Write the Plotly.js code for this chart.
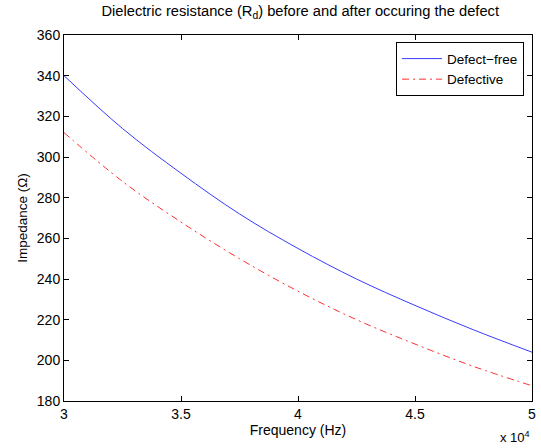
<!DOCTYPE html>
<html>
<head>
<meta charset="utf-8">
<script src="https://cdn.plot.ly/plotly-3.0.1.min.js"></script>
<style>html,body{margin:0;padding:0;background:#fff;}#chart{width:541px;height:448px;}</style>
</head>
<body>
<div id="chart"></div>
<script>
// Frequency (Hz)
const frequency = [30000, 32500, 35000, 37500, 40000, 42500, 45000, 47500, 50000];
// Impedance (Ohm)
const defectFree = [340, 314, 292, 272, 255, 240, 227, 215, 204];
const defective  = [312, 288, 268, 250, 234, 220, 208, 197, 187.5];
const xTickVals = [30000, 35000, 40000, 45000, 50000];
const xTickText = ['3', '3.5', '4', '4.5', '5'];
const yTickVals = [180, 200, 220, 240, 260, 280, 300, 320, 340, 360];

const fam = 'Liberation Sans, Arial, sans-serif';
const font = {family: fam, size: 13.5, color: '#000'};

const traces = [
  {x: frequency, y: defectFree, name: 'Defect\u2212free', type: 'scatter', mode: 'lines',
   line: {color: '#3a3aff', width: 1, shape: 'spline'}},
  {x: frequency, y: defective, name: 'Defective', type: 'scatter', mode: 'lines',
   line: {color: '#ff3030', width: 1, dash: '7px,4px,2px,4px', shape: 'spline'}}
];

const layout = {
  width: 541, height: 448,
  margin: {l: 64, r: 9, t: 35, b: 47},
  paper_bgcolor: '#fff', plot_bgcolor: '#fff',
  font: font,
  showlegend: true,
  title: {text: 'Dielectric resistance (R<sub>d</sub>) before and after occuring the defect',
          font: {family: fam, size: 14.7, color: '#000'}, x: 0.555, xanchor: 'center', y: 0.987, yanchor: 'top'},
  xaxis: {
    range: [30000, 50000], tickvals: xTickVals, ticktext: xTickText,
    ticks: 'inside', ticklen: 5, tickcolor: '#000', mirror: 'ticks',
    showline: true, linecolor: '#000', linewidth: 1, showgrid: false, zeroline: false,
    tickfont: {family: fam, size: 14, color: '#000'},
    title: {text: 'Frequency (Hz)', font: {family: fam, size: 14, color: '#000'}, standoff: 1}
  },
  yaxis: {
    range: [180, 360], tickvals: yTickVals,
    ticks: 'inside', ticklen: 5, tickcolor: '#000', mirror: 'ticks',
    showline: true, linecolor: '#000', linewidth: 1, showgrid: false, zeroline: false,
    tickfont: {family: fam, size: 14, color: '#000'},
    title: {text: 'Impedance (\u03A9)', font: {family: fam, size: 13.5, color: '#000'}, standoff: 6}
  },
  legend: {
    x: 0.983, xanchor: 'right', y: 0.98, yanchor: 'top',
    bgcolor: '#fff', bordercolor: '#000', borderwidth: 1,
    font: {family: fam, size: 13.5, color: '#000'},
    tracegroupgap: 0, itemwidth: 40
  },
  annotations: [
    {xref: 'paper', yref: 'paper', x: 1.0, y: -0.098, xanchor: 'right', yanchor: 'middle',
     text: 'x 10<sup>4</sup>', showarrow: false, font: {family: fam, size: 13, color: '#000'}}
  ]
};

Plotly.newPlot('chart', traces, layout, {displayModeBar: false, staticPlot: true});
</script>
</body>
</html>
